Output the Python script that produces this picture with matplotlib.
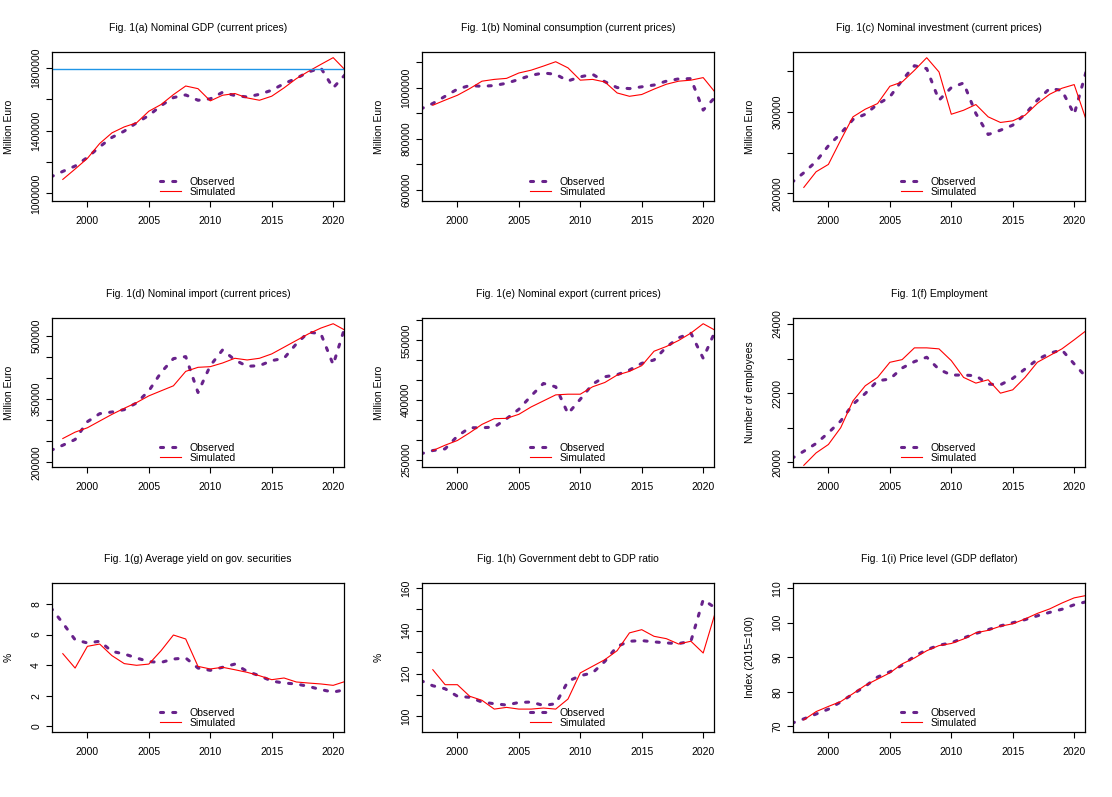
import numpy as np
import matplotlib
matplotlib.use('Agg')
import matplotlib.pyplot as plt

plt.rcParams['font.family'] = ['Liberation Sans', 'DejaVu Sans']

# years
obs_years = list(range(1997, 2022))
sim_years = list(range(1998, 2022))

# (a) nominal GDP
gdp_obs = [1104000, 1140000, 1174000, 1229000, 1297000, 1357000, 1397000, 1450000, 1497000,
           1560000, 1611000, 1628000, 1594000, 1603000, 1645000, 1624000, 1615000, 1632000,
           1658000, 1700000, 1734000, 1775000, 1800000, 1673000, 1760000]
gdp_sim = [1089000, 1155000, 1223000, 1318000, 1386000, 1424000, 1450000, 1524000, 1567000,
           1630000, 1685000, 1668000, 1590000, 1626000, 1637000, 1609000, 1594000, 1620000,
           1673000, 1732000, 1779000, 1823000, 1866000, 1785000]

# (b) nominal consumption
cons_obs = [916000, 938000, 966000, 994000, 1008000, 1005000, 1008000, 1017000, 1032000,
            1048000, 1057000, 1052000, 1026000, 1042000, 1052000, 1023000, 1000000, 996000,
            1003000, 1010000, 1025000, 1034000, 1035000, 912000, 964000]
cons_sim = [931000, 951000, 970000, 996000, 1025000, 1032000, 1036000, 1057000, 1068000,
            1084000, 1101000, 1077000, 1029000, 1032000, 1022000, 979000, 966000, 973000,
            994000, 1013000, 1025000, 1029000, 1039000, 980000]

# (c) nominal investment
inv_obs = [213000, 225300, 239200, 258400, 273500, 290600, 297100, 309400, 318400, 338800,
           356700, 353100, 314300, 329800, 335500, 298000, 272200, 277500, 283700, 297100,
           314300, 328600, 326500, 297000, 351000]
inv_sim = [207300, 226500, 235500, 265300, 293900, 303300, 310200, 331400, 336700, 351000,
           366500, 349000, 297100, 302000, 309000, 293900, 287000, 289000, 295900, 310200,
           321600, 329000, 333500, 289000]

# (d) nominal import
imp_obs = [228000, 240700, 254300, 296600, 315700, 319700, 325300, 341200, 369900, 413800,
           446500, 451300, 366000, 429800, 467200, 443300, 428200, 429800, 441700, 447300,
           481600, 509500, 505500, 432100, 525500]
imp_sim = [256700, 271800, 282200, 298200, 314100, 328500, 342000, 358000, 370000, 381900,
           416200, 425800, 427400, 436100, 447300, 443300, 447300, 457700, 473600, 489600,
           505500, 519100, 529400, 513500]

# (e) nominal export
exp_obs = [265600, 274000, 278200, 310100, 331100, 331100, 332800, 353800, 377300, 410900,
           442000, 433600, 366400, 402500, 440300, 458800, 463900, 475600, 492400, 500800,
           532800, 556300, 568100, 505000, 574800]
exp_sim = [274000, 287400, 299200, 318500, 339500, 353800, 354600, 364700, 383200, 398300,
           413400, 415100, 415100, 433600, 444500, 463000, 472300, 486600, 522700, 534500,
           549600, 568100, 591600, 574800]

# (f) employment
emp_obs = [20107, 20320, 20544, 20854, 21194, 21680, 21990, 22359, 22408, 22728, 22913,
           23039, 22689, 22524, 22524, 22505, 22262, 22243, 22427, 22699, 22971, 23155,
           23252, 22845, 22456]
emp_sim = [19913, 20272, 20515, 21000, 21777, 22214, 22456, 22893, 22971, 23311, 23311,
           23282, 22942, 22456, 22291, 22388, 22000, 22097, 22456, 22893, 23087, 23282,
           23544, 23816]

# (g) average yield on government securities
yld_obs = [7.78, 6.75, 5.66, 5.45, 5.56, 4.90, 4.73, 4.47, 4.23, 4.18, 4.40, 4.47, 3.81,
           3.66, 3.86, 4.07, 3.59, 3.31, 2.96, 2.83, 2.77, 2.61, 2.40, 2.24, 2.40]
yld_sim = [4.75, 3.81, 5.23, 5.38, 4.62, 4.10, 3.99, 4.07, 4.95, 5.97, 5.71, 3.92, 3.75,
           3.86, 3.70, 3.53, 3.31, 3.05, 3.16, 2.90, 2.83, 2.77, 2.68, 2.94]

# (h) government debt to GDP
debt_obs = [116.8, 114.3, 112.9, 109.4, 108.9, 106.7, 105.9, 105.3, 106.5, 106.7, 105.1,
            105.9, 116.4, 119.0, 120.3, 125.7, 132.7, 135.1, 135.4, 134.8, 134.3, 134.0,
            135.1, 154.5, 150.6]
debt_sim = [121.8, 114.8, 114.8, 109.4, 107.5, 103.4, 104.2, 103.4, 103.4, 103.9, 103.4,
            108.1, 120.3, 123.4, 126.5, 130.7, 139.0, 140.5, 137.4, 136.3, 133.8, 135.1,
            129.6, 148.8]

# (i) GDP deflator
defl_obs = [70.9, 72.2, 73.6, 75.0, 77.1, 79.4, 81.6, 84.3, 85.8, 87.7, 90.3, 92.2, 93.5,
            94.2, 95.6, 96.9, 98.0, 99.1, 100.0, 100.9, 102.0, 103.0, 103.9, 105.2, 106.1]
defl_sim = [71.9, 74.3, 75.8, 77.2, 79.5, 81.9, 83.7, 85.5, 88.1, 89.8, 91.9, 93.4, 94.0,
            95.3, 97.1, 97.8, 99.0, 99.7, 101.1, 102.7, 104.0, 105.7, 107.2, 107.9]

titles = ['Fig. 1(a) Nominal GDP (current prices)',
          'Fig. 1(b) Nominal consumption (current prices)',
          'Fig. 1(c) Nominal investment (current prices)',
          'Fig. 1(d) Nominal import (current prices)',
          'Fig. 1(e) Nominal export (current prices)',
          'Fig. 1(f) Employment',
          'Fig. 1(g) Average yield on gov. securities',
          'Fig. 1(h) Government debt to GDP ratio',
          'Fig. 1(i) Price level (GDP deflator)']
ylabels = ['Million Euro'] * 5 + ['Number of employees', '%', '%', 'Index (2015=100)']
observed = [gdp_obs, cons_obs, inv_obs, imp_obs, exp_obs, emp_obs, yld_obs, debt_obs, defl_obs]
simulated = [gdp_sim, cons_sim, inv_sim, imp_sim, exp_sim, emp_sim, yld_sim, debt_sim, defl_sim]

ylims = [(951000, 1902000), (557000, 1139000), (190600, 373500),
         (189000, 543000), (232800, 605900), (19864, 24175),
         (-0.37, 9.37), (92.7, 162.3), (68.4, 111.5)]
# (tick positions, labelled ticks)
yticks = [(np.arange(1000000, 1800001, 200000), [1000000, 1400000, 1800000]),
          (np.arange(600000, 1100001, 100000), [600000, 800000, 1000000]),
          (np.arange(200000, 350001, 50000), [200000, 300000]),
          (np.arange(200000, 500001, 50000), [200000, 350000, 500000]),
          (np.arange(250000, 600001, 50000), [250000, 400000, 550000]),
          (np.arange(20000, 24001, 1000), [20000, 22000, 24000]),
          (np.arange(0, 9, 2), [0, 2, 4, 6, 8]),
          (np.arange(100, 161, 10), [100, 120, 140, 160]),
          (np.arange(70, 111, 10), [70, 80, 90, 100, 110])]

obs_col = '#68228B'
fs = 7.5

fig = plt.figure(figsize=(11.12, 7.97), dpi=100)
W, H = 1112, 797
lefts = [52, 422, 793]
tops = [52, 318, 583]

for k in range(9):
	r, c = divmod(k, 3)
	ax = fig.add_axes([lefts[c] / W, 1 - (tops[r] + 149) / H, 292 / W, 149 / H])
	ax.plot(obs_years, observed[k], color=obs_col, lw=2.2, linestyle=(0, (1, 3)),
	        dash_capstyle='round', label='Observed')
	ax.plot(sim_years, simulated[k], color='red', lw=0.8, label='Simulated')
	if k == 0:
		ax.axhline(1795000, color='#1f95e6', lw=1.0)
	ax.set_xlim(1997.12, 2020.88)
	ax.set_ylim(*ylims[k])
	ax.set_xticks(range(2000, 2021, 5))
	ticks, labelled = yticks[k]
	ax.set_yticks(ticks)
	ax.set_yticklabels([str(int(t)) if t in labelled else '' for t in ticks],
	                   rotation=90, va='center')
	ax.tick_params(axis='both', direction='out', length=4.3, width=0.8, labelsize=fs)
	ax.tick_params(axis='x', pad=6.5)
	ax.tick_params(axis='y', pad=3.5)
	for s in ax.spines.values():
		s.set_linewidth(0.9)
	ax.set_title(titles[k], fontsize=fs, pad=15)
	ax.set_ylabel(ylabels[k], fontsize=fs)
	ax.yaxis.set_label_coords(-0.13, 0.5)
	ax.legend(loc='lower left', bbox_to_anchor=(0.37, 0.027), borderaxespad=0, borderpad=0,
	          frameon=False, labelspacing=0, handlelength=2.0, handletextpad=0.8,
	          fontsize=fs)

fig.savefig('out.png', dpi=100)
